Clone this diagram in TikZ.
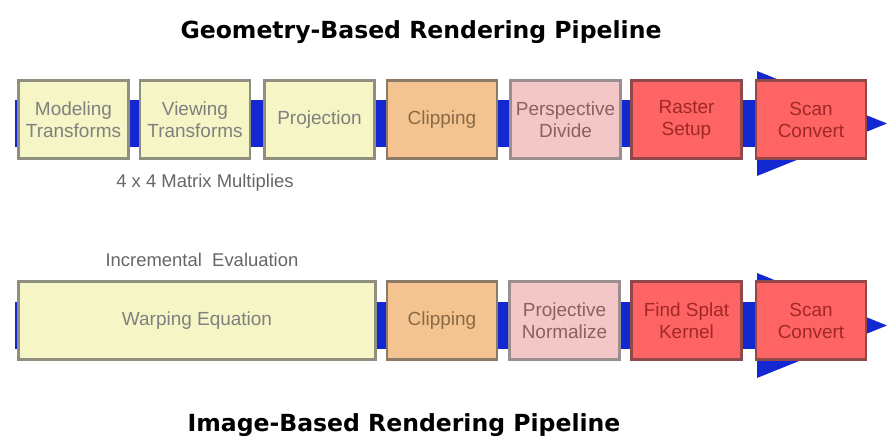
\documentclass[tikz,border=0pt]{standalone}
\usepackage{fontspec}
\setmainfont{Liberation Sans}
\newfontfamily\ttlfont{DejaVu Sans}
\usetikzlibrary{arrows.meta,positioning}
\definecolor{BarBlue}{HTML}{1428D2}
\definecolor{YelFill}{HTML}{F5F5C5}
\definecolor{YelLine}{HTML}{8F8F80}
\definecolor{OrgFill}{HTML}{F3C48F}
\definecolor{OrgLine}{HTML}{8C7A68}
\definecolor{OrgText}{HTML}{8A6A45}
\definecolor{PnkFill}{HTML}{F3C7C7}
\definecolor{PnkLine}{HTML}{9A8E8E}
\definecolor{PnkText}{HTML}{8A6060}
\definecolor{RedFill}{HTML}{FF6464}
\definecolor{RedLine}{HTML}{904848}
\definecolor{RedText}{HTML}{A02828}
\begin{document}
\begin{tikzpicture}[x=.02cm,y=-.02cm,
  box/.style={draw,line width=1.6pt,minimum width=2.2cm,minimum height=1.55cm,align=center,inner sep=1pt,font=\fontsize{10.8}{12.5}\selectfont},
  yel/.style={box,fill=YelFill,draw=YelLine,text=black!50},
  org/.style={box,fill=OrgFill,draw=OrgLine,text=OrgText},
  pnk/.style={box,fill=PnkFill,draw=PnkLine,text=PnkText},
  rdb/.style={box,fill=RedFill,draw=RedLine,text=RedText},
  bar/.style={draw=BarBlue,fill=BarBlue,line width=.95cm,-{Triangle[length=2.6cm,width=2.1cm,line width=0pt]}},
  ttl/.style={font=\ttlfont\bfseries\fontsize{13.4}{15}\selectfont},
  lbl/.style={text=black!60,font=\fontsize{10.5}{12}\selectfont}]
\useasboundingbox (0,0) rectangle (887,439);
% geometry-based pipeline
\coordinate (gs) at (15,123.5);\coordinate (gt) at (887,123.5);
\draw[bar](gs)--(gt);
\foreach \x/\nm/\st/\lab in {73.5/mod/yel/{Modeling\\Transforms},195/vie/yel/{Viewing\\Transforms},319.5/pro/yel/Projection,
  442/clg/org/Clipping,565.5/per/pnk/{Perspective\\Divide},686.5/ras/rdb/{Raster\\Setup},811/scg/rdb/{Scan\\Convert}}{
\node[style=\st] (\nm) at (\x,119.5) {\lab};}
\node[lbl] (mat) at (205,183) {4 x 4 Matrix Multiplies};
\node[ttl] (gtl) at (421,32) {Geometry-Based Rendering Pipeline};
% image-based pipeline
\coordinate (is) at (15,325.5);\coordinate (it) at (887,325.5);
\draw[bar](is)--(it);
\node[yel,minimum width=7.15cm] (war) at (197,320.5) {Warping Equation};
\foreach \x/\nm/\st/\lab in {442/cli/org/Clipping,564.5/prn/pnk/{Projective\\Normalize},686.5/fsk/rdb/{Find Splat\\Kernel},811/sci/rdb/{Scan\\Convert}}{
\node[style=\st] (\nm) at (\x,320.5) {\lab};}
\node[lbl] (inc) at (202,260) {Incremental\ \ Evaluation};
\node[ttl] (itl) at (404,425) {Image-Based Rendering Pipeline};
\end{tikzpicture}
\end{document}
